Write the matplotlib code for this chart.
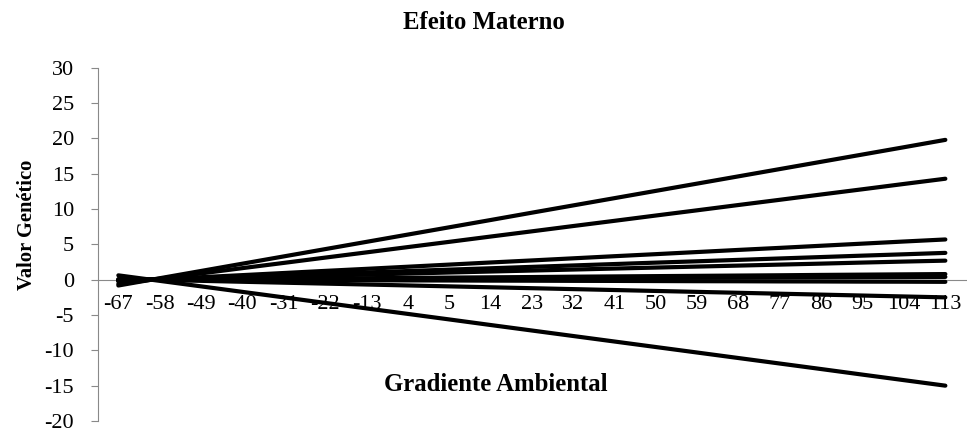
import matplotlib.pyplot as plt
import numpy as np

plt.rcParams['font.family'] = ['Liberation Serif', 'DejaVu Serif']

# categories on the x axis (as shown in the chart)
categories = ['-67', '-58', '-49', '-40', '-31', '-22', '-13', '4', '5', '14', '23',
              '32', '41', '50', '59', '68', '77', '86', '95', '104', '113']

# genetic values of each line
line1 = [-0.82, 0.21, 1.24, 2.27, 3.30, 4.33, 5.36, 6.39, 7.42, 8.45, 9.49,
         10.52, 11.55, 12.58, 13.61, 14.64, 15.67, 16.70, 17.73, 18.76, 19.80]
line2 = [-0.60, 0.15, 0.89, 1.64, 2.38, 3.13, 3.87, 4.62, 5.36, 6.11, 6.85,
         7.60, 8.34, 9.09, 9.83, 10.58, 11.32, 12.07, 12.81, 13.56, 14.30]
line3 = [-0.24, 0.06, 0.36, 0.65, 0.95, 1.25, 1.54, 1.84, 2.14, 2.44, 2.73,
         3.03, 3.33, 3.62, 3.92, 4.22, 4.51, 4.81, 5.11, 5.41, 5.70]
line4 = [-0.16, 0.04, 0.24, 0.44, 0.63, 0.83, 1.03, 1.23, 1.43, 1.62, 1.82,
         2.02, 2.22, 2.42, 2.61, 2.81, 3.01, 3.21, 3.41, 3.60, 3.80]
line5 = [-0.11, 0.03, 0.17, 0.31, 0.45, 0.59, 0.73, 0.87, 1.02, 1.16, 1.30,
         1.44, 1.58, 1.72, 1.86, 2.00, 2.14, 2.28, 2.43, 2.57, 2.70]
line6 = [-0.03, 0.01, 0.05, 0.09, 0.13, 0.18, 0.22, 0.26, 0.30, 0.34, 0.38,
         0.43, 0.47, 0.51, 0.55, 0.59, 0.63, 0.68, 0.72, 0.76, 0.80]
line7 = [-0.02, 0.01, 0.03, 0.05, 0.07, 0.09, 0.11, 0.13, 0.15, 0.17, 0.19,
         0.21, 0.23, 0.26, 0.28, 0.30, 0.32, 0.34, 0.36, 0.38, 0.40]
line8 = [0.01, 0.00, -0.02, -0.03, -0.05, -0.07, -0.08, -0.10, -0.11, -0.13, -0.14,
         -0.16, -0.17, -0.19, -0.21, -0.22, -0.24, -0.25, -0.27, -0.28, -0.30]
line9 = [0.10, -0.03, -0.16, -0.29, -0.42, -0.55, -0.68, -0.81, -0.94, -1.07, -1.20,
         -1.33, -1.46, -1.59, -1.72, -1.85, -1.98, -2.11, -2.24, -2.37, -2.50]
line10 = [0.62, -0.16, -0.94, -1.72, -2.50, -3.28, -4.06, -4.84, -5.62, -6.41, -7.19,
          -7.97, -8.75, -9.53, -10.31, -11.09, -11.87, -12.65, -13.44, -14.22, -15.00]

y_ticks = [-20, -15, -10, -5, 0, 5, 10, 15, 20, 25, 30]

fig = plt.figure(figsize=(9.67, 4.32), dpi=100)
ax = fig.add_axes([0.101, 0.0255, 0.898, 0.8175])

# x axis sits on y = 0 (set before the tick styling, it resets ticks)
gray = '#898989'
for s in ['top', 'right']:
    ax.spines[s].set_visible(False)
ax.spines['bottom'].set_position(('data', 0))
ax.spines['bottom'].set_color(gray)
ax.spines['left'].set_color(gray)
ax.spines['bottom'].set_zorder(0)

x = np.arange(len(categories))
for vals in [line1, line2, line3, line4, line5, line6, line7, line8, line9, line10]:
    ax.plot(x, vals, color='black', linewidth=3, solid_capstyle='round')

ax.set_xlim(-0.5, len(categories) - 0.5)
ax.set_ylim(-20, 30)
ax.set_yticks(y_ticks)
ax.set_yticklabels([str(t) for t in y_ticks])
ax.set_xticks(x)
ax.set_xticklabels(categories)

ax.tick_params(axis='y', direction='out', length=5, color=gray, pad=12, labelsize=16)
ax.tick_params(axis='x', length=0, pad=11, labelsize=16)

fig.text(0.5, 0.947, 'Efeito Materno', ha='center', va='center',
         fontsize=17.8, fontweight='bold')
fig.text(0.513, 0.111, 'Gradiente Ambiental', ha='center', va='center',
         fontsize=17.8, fontweight='bold')
fig.text(0.028, 0.479, 'Valor Genético', ha='center', va='center',
         rotation=90, fontsize=14.8, fontweight='bold')

fig.savefig('out.png', dpi=100)
